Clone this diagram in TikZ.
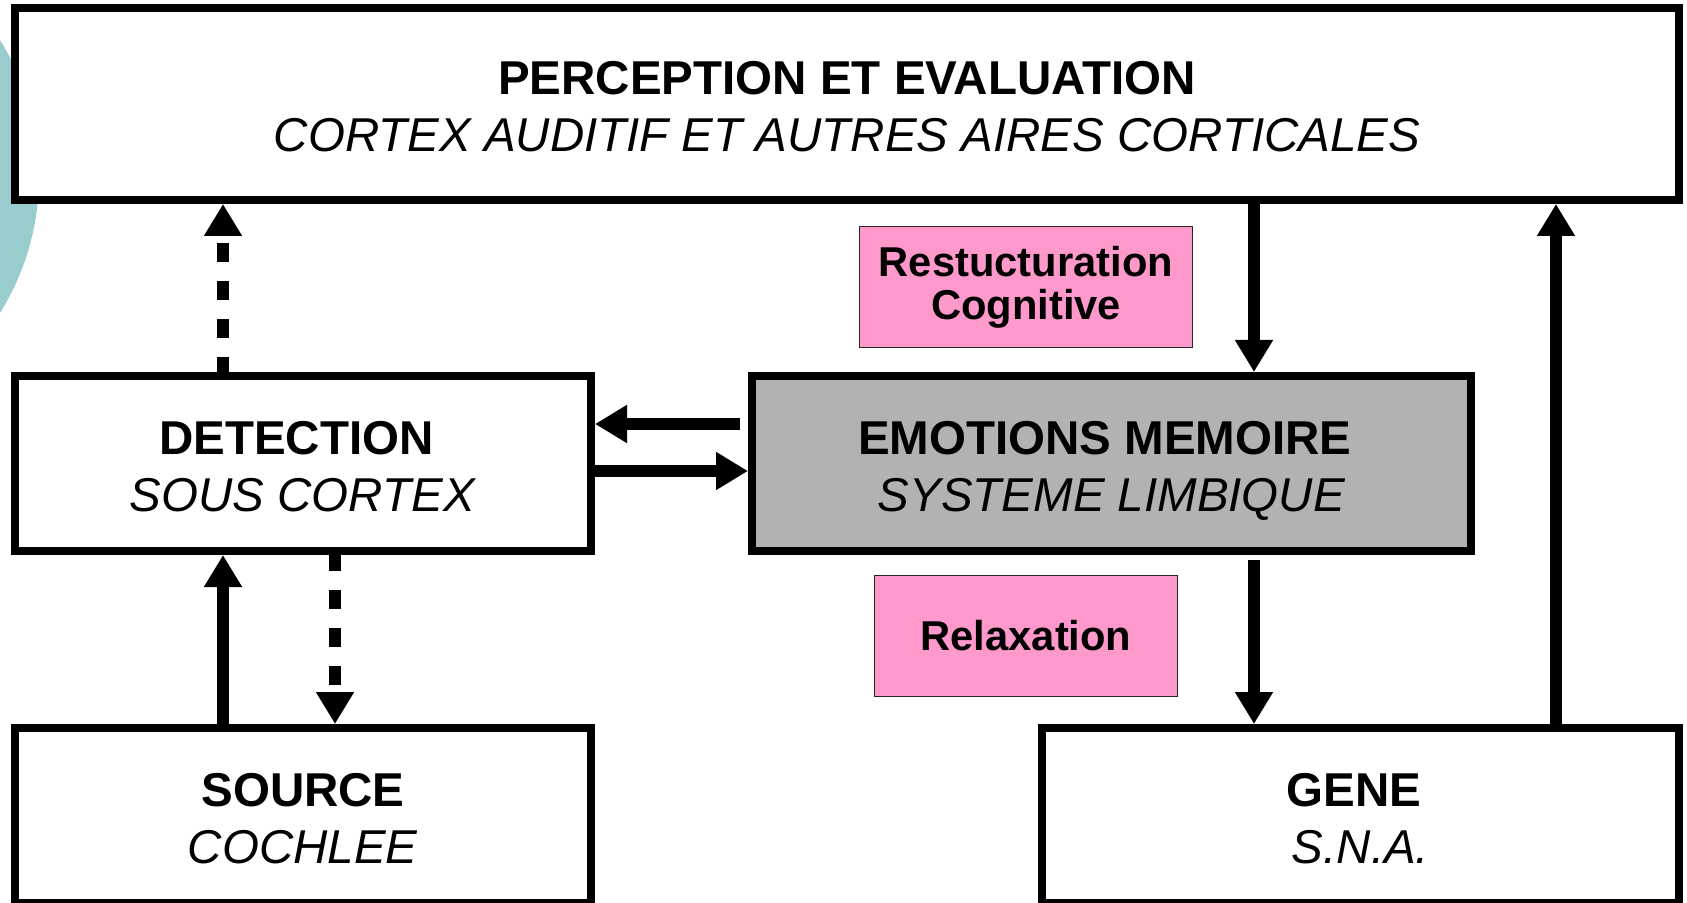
\documentclass[tikz,border=0pt]{standalone}
\usepackage{fontspec}
\setmainfont{Liberation Sans}
\usetikzlibrary{arrows.meta}
\definecolor{pinkfill}{HTML}{FF99CC}
\definecolor{limbicfill}{HTML}{B2B2B2}
\definecolor{decofill}{HTML}{99CCCC}
% a trailing word space after some headings
\newcommand{\trailsp}{\hspace*{.278em}}
\tikzset{
  box/.style={draw, line width=4pt, fill=white, inner sep=0pt, align=center,
    font=\fontsize{23.75}{28.5}\selectfont, text height=47.8pt, text depth=0pt},
  tagbox/.style={draw=black!85, line width=0.6pt, fill=pinkfill, inner sep=0pt,
    align=center, font=\bfseries\fontsize{20.85}{21.5}\selectfont},
  arr/.style={line width=6pt, -{Triangle[length=16pt,width=18pt]}},
  dashedarr/.style={arr, dash pattern=on 9.5pt off 9.5pt},
}
\begin{document}
\begin{tikzpicture}[x=0.5pt, y=-0.5pt]
\useasboundingbox (0,0) rectangle (1687,903);
\clip (0,0) rectangle (1687,903);

% decorative disc behind the top box
\fill[decofill] (-219,176.5) circle[radius=129pt];

% blocks
\node[box, minimum width=832pt, minimum height=96pt] (top) at (847,104)
  {\textbf{PERCEPTION ET EVALUATION}\\\textit{CORTEX AUDITIF ET AUTRES AIRES CORTICALES}};
\node[box, minimum width=288pt, minimum height=87.5pt] (det) at (303,463.5)
  {\textbf{DETECTION}\trailsp\\\textit{SOUS CORTEX}};
\node[box, fill=limbicfill, minimum width=359.5pt, minimum height=87.5pt] (emo) at (1111.5,463.5)
  {\textbf{EMOTIONS MEMOIRE}\trailsp\\\textit{SYSTEME LIMBIQUE}};
\node[box, minimum width=288pt, minimum height=87.5pt] (src) at (303,815.5)
  {\textbf{SOURCE}\\\textit{COCHLEE}};
\node[box, minimum width=318.5pt, minimum height=87.5pt] (gene) at (1360.5,815.5)
  {\textbf{GENE}\trailsp\\\textit{S.N.A.}};

% therapy labels
\node[tagbox, minimum width=166.5pt, minimum height=60.5pt] (cog) at (1026,287)
  {Restucturation\\Cognitive};
\node[tagbox, minimum width=151.5pt, minimum height=60.5pt] (relax) at (1026,636)
  {Relaxation};

% connector positions
\coordinate (xa) at (223,0);
\coordinate (xb) at (335,0);
\coordinate (xc) at (1254,0);
\coordinate (xd) at (1556,0);
\coordinate (ya) at (0,424);
\coordinate (yb) at (0,471);

% connectors
\draw[dashedarr, dash phase=2pt] (det.north -| xa) -- (top.south -| xa);
\draw[arr] (src.north -| xa) -- (det.south -| xa);
\draw[dashedarr, dash phase=1.5pt] (det.south -| xb) -- (src.north -| xb);
\draw[arr, shorten <=4pt] (emo.west |- ya) -- (det.east |- ya);
\draw[arr] (det.east |- yb) -- (emo.west |- yb);
\draw[arr] (top.south -| xc) -- (emo.north -| xc);
\draw[arr, shorten <=2.5pt] (emo.south -| xc) -- (gene.north -| xc);
\draw[arr] (gene.north -| xd) -- (top.south -| xd);
\end{tikzpicture}
\end{document}
